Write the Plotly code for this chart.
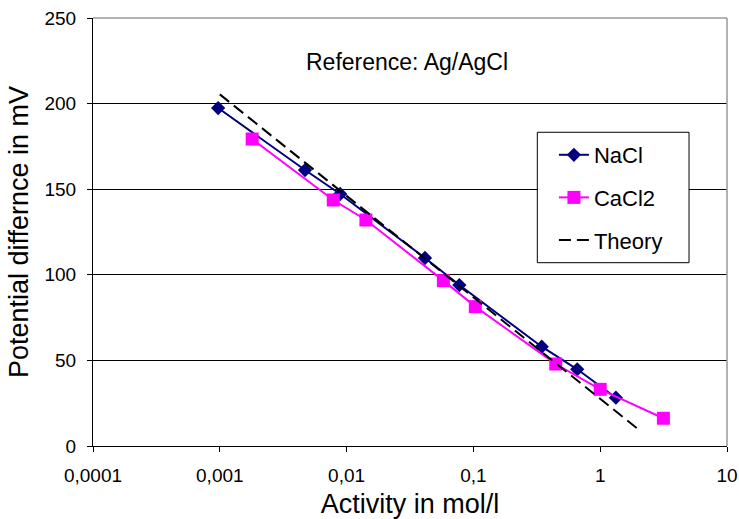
import plotly.graph_objects as go

nacl_x = [0.00097, 0.0047, 0.0089, 0.0415, 0.0775, 0.346, 0.659, 1.33]
nacl_y = [197.4, 161.2, 147.2, 109.8, 94.0, 58.0, 44.8, 28.2]

cacl2_x = [0.0018, 0.00785, 0.0142, 0.058, 0.1035, 0.446, 1.0, 3.15]
cacl2_y = [179.3, 143.7, 132.0, 96.6, 81.4, 47.9, 33.1, 16.2]

theory_x = [0.001, 2.03]
theory_y = [205.4, 9.3]

x_tickvals = [0.0001, 0.001, 0.01, 0.1, 1, 10]
x_ticktext = ["0,0001", "0,001", "0,01", "0,1", "1", "10"]
y_tickvals = [0, 50, 100, 150, 200, 250]

FONT = "Liberation Sans, Arial, sans-serif"

fig = go.Figure()
fig.add_trace(go.Scatter(x=nacl_x, y=nacl_y, name="NaCl", mode="lines+markers",
                         legendgroup="a",
                         line=dict(color="#000080", width=2),
                         marker=dict(symbol="diamond", size=11, color="#000080")))
fig.add_trace(go.Scatter(x=cacl2_x, y=cacl2_y, name="CaCl2", mode="lines+markers",
                         legendgroup="b",
                         line=dict(color="#FF00FF", width=2),
                         marker=dict(symbol="square", size=13, color="#FF00FF")))
fig.add_trace(go.Scatter(x=theory_x, y=theory_y, name="Theory", mode="lines",
                         legendgroup="c",
                         line=dict(color="black", width=2, dash="12px,6px")))

fig.update_layout(
    width=739, height=519,
    margin=dict(l=93, r=12, t=18, b=73, autoexpand=False),
    paper_bgcolor="white", plot_bgcolor="white",
    font=dict(family=FONT, size=19, color="black"),
    showlegend=True,
    legend=dict(x=0.727, y=0.729, xanchor="left", yanchor="top",
                borderwidth=0, bgcolor="rgba(0,0,0,0)",
                font=dict(size=22, family=FONT), itemwidth=30,
                tracegroupgap=11),
    xaxis=dict(type="log", range=[-4, 1], tickvals=x_tickvals, ticktext=x_ticktext,
               showgrid=False, showline=True, linecolor="black", linewidth=1,
               ticks="outside", ticklen=5, tickcolor="black", automargin=False,
               zeroline=False, ticklabelstandoff=7,
               title=dict(text="Activity in mol/l", font=dict(size=27), standoff=17),
               tickfont=dict(size=19)),
    yaxis=dict(range=[0, 250], tickvals=y_tickvals,
               showgrid=True, gridcolor="black", gridwidth=1,
               showline=True, linecolor="black", linewidth=1,
               ticks="outside", ticklen=5, tickcolor="black", automargin=False,
               zeroline=False, ticklabelstandoff=7,
               title=dict(text="Potential differnce in mV", font=dict(size=27), standoff=8),
               tickfont=dict(size=19)),
    annotations=[dict(text="Reference: Ag/AgCl", x=0.495, y=0.897, xref="paper", yref="paper",
                      xanchor="center", yanchor="middle", showarrow=False,
                      font=dict(size=23, family=FONT))],
    shapes=[
        dict(type="line", xref="paper", yref="paper", x0=0, x1=1, y0=1, y1=1,
             line=dict(color="#999999", width=1.5)),
        dict(type="line", xref="paper", yref="paper", x0=1, x1=1, y0=0, y1=1,
             line=dict(color="#999999", width=1.5)),
        dict(type="rect", xref="paper", yref="paper", layer="above",
             x0=0.7008, x1=0.9401, y0=0.4283, y1=0.733,
             fillcolor="white", line=dict(color="black", width=1)),
    ],
)

fig.write_html("out.html", config={"displayModeBar": False},
               post_script="document.body.style.margin='0';")
